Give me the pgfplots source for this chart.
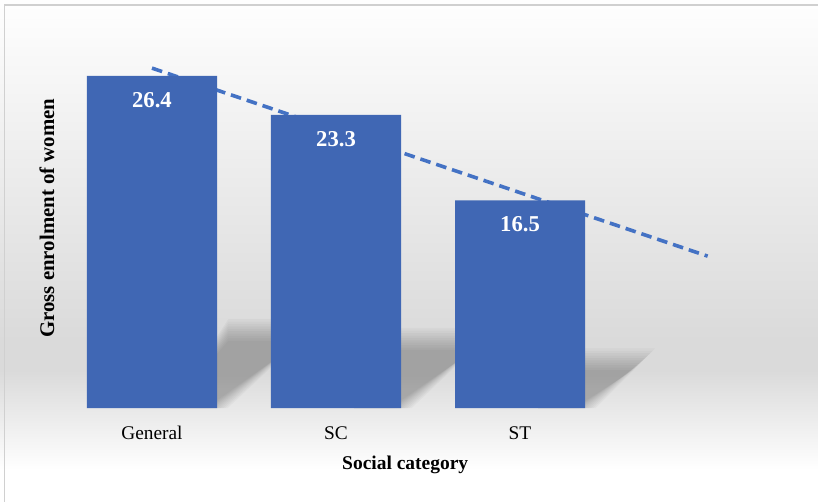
\documentclass[border=0pt]{standalone}
\usepackage{pgfplots}
\pgfplotsset{compat=1.18}
\usepackage{pgfplotstable}
\usepackage{fontspec}
\setmainfont{Liberation Serif}

\pgfdeclarelayer{background}
\pgfsetlayers{background,main}

\definecolor{barblue}{RGB}{64,103,180}
\definecolor{trendblue}{RGB}{68,114,196}
\definecolor{bggray}{RGB}{218,218,218}
\definecolor{framegray}{RGB}{208,208,208}

% gross enrolment of women by social category
\pgfplotstableread{
x val
0 26.4
1 23.3
2 16.5
}\enrol

\pgfplotstablegetelem{0}{val}\of\enrol \edef\vA{\pgfplotsretval}
\pgfplotstablegetelem{1}{val}\of\enrol \edef\vB{\pgfplotsretval}
\pgfplotstablegetelem{2}{val}\of\enrol \edef\vC{\pgfplotsretval}

% soft perspective shadow lying behind a bar: a stack of faint,
% slightly growing parallelograms gives the blurred edge
\newcommand\barshadow[2]{%
  \pgfmathsetmacro\shr{0.235*#2}%
  \pgfmathsetmacro\shs{0.0195*#2}%
  \pgfplotsforeachungrouped \k in {0,...,9}{%
    \pgfmathsetmacro\ex{(4.5-\k)*2.4*0.005435}%
    \pgfmathsetmacro\ey{(4.5-\k)*2.4*0.0795}%
    \edef\temp{\noexpand\fill[black, opacity=0.027]
      (axis cs:{#1+0.1},0) -- (axis cs:{#1+0.353+\ex},0) --
      (axis cs:{#1+0.353+\shs+\ex},{\shr+\ey}) --
      (axis cs:{#1+\shs-0.1},{\shr+\ey}) -- cycle;}%
    \temp}%
}

\begin{document}
\begin{tikzpicture}[x=0.75pt,y=0.75pt]
\begin{axis}[
  scale only axis, width=552pt, height=283.05pt,
  xmin=-0.5, xmax=3.5, ymin=0, ymax=30,
  axis line style={draw=none}, tick style={draw=none},
  ytick=\empty,
  xtick={0,1,2}, xticklabels={General,SC,ST},
  xticklabel style={font=\fontsize{14.5}{16}\selectfont, anchor=center, yshift=-18.75pt},
  xlabel={Social category},
  xlabel style={font=\bfseries\fontsize{14.6}{16}\selectfont,
    at={(axis description cs:0.469,0)}, anchor=center, yshift=-42.75pt},
  ylabel={Gross enrolment of women},
  ylabel style={font=\bfseries\fontsize{15.6}{17}\selectfont,
    at={(axis description cs:-0.0177,0.503)}, anchor=center},
  clip=false,
]
\coordinate (O) at (axis cs:-0.5,0);

\barshadow{0}{\vA}
\barshadow{1}{\vB}
\barshadow{2}{\vC}

% linear trend, extended one category ahead
\addplot[trendblue, line width=2.7pt, dash pattern=on 8pt off 4.5pt]
  coordinates {(0,27.017) (3.02,12.07)};

\addplot[ybar, bar width=97.5pt, bar shift=0pt, fill=barblue, draw=none,
  nodes near coords={\pgfmathprintnumber[fixed,fixed zerofill,precision=1,assume math mode=true]{\pgfplotspointmeta}},
  every node near coord/.append style={anchor=center, yshift=-18pt,
    text=white, font=\bfseries\fontsize{17}{19}\selectfont}]
  table[x=x,y=val]{\enrol};
\end{axis}

% background panel, placed from the plot's origin
\begin{pgfonlayer}{background}
\begin{scope}[shift={(O)}, shift={(-60,-93)}]
  \shade[top color=white, bottom color=bggray] (-5,160) rectangle (825,506);
  \fill[bggray] (-5,130) rectangle (825,161);
  \shade[top color=bggray, bottom color=white] (-5,31) rectangle (825,131);
  \fill[white] (-5,-5) rectangle (825,31.5);
  \draw[framegray, line width=1pt] (4.5,-5) -- (4.5,496) -- (825,496);
\end{scope}
\end{pgfonlayer}

\pgfresetboundingbox
\path[use as bounding box] (O) ++(-60,-93) rectangle ++(818,501);
\end{tikzpicture}
\end{document}
